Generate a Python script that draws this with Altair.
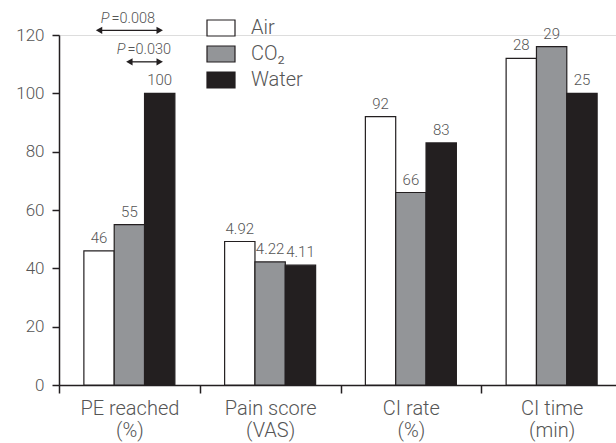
import altair as alt
import pandas as pd

groups = ["PE reached", "Pain score", "CI rate", "CI time"]
units = ["(%)", "(VAS)", "(%)", "(min)"]
series = ["Air", "CO₂", "Water"]
air_vals = [46, 49.2, 92, 112]
co2_vals = [55, 42.2, 66, 116]
water_vals = [100, 41.1, 83, 100]
air_text = ["46", "4.92", "92", "28"]
co2_text = ["55", "4.22", "66", "29"]
water_text = ["100", "4.11", "83", "25"]
colors = ["#ffffff", "#939598", "#231f20"]

# significance annotations
p_group = ["PE reached", "PE reached"]
p_from = ["Air", "CO₂"]
p_to = ["Water", "Water"]
p_level = [121.6, 110.8]
p_value = ["=0.008", "=0.030"]
p_text_level = [124.2, 113.4]

FONT = "Roboto"
TXT = "#555555"
INK = "#231f20"

rows = []
for s, vals, txts in zip(series, [air_vals, co2_vals, water_vals],
                         [air_text, co2_text, water_text]):
    for g, v, t in zip(groups, vals, txts):
        rows.append({"group": g, "series": s, "value": v, "label": t})
bars_df = pd.DataFrame(rows)

arrow_rows = []
for i, (g, a, b, lv) in enumerate(zip(p_group, p_from, p_to, p_level)):
    arrow_rows.append({"cmp": i, "group": g, "series": a, "level": lv, "head": "triangle-left"})
    arrow_rows.append({"cmp": i, "group": g, "series": b, "level": lv, "head": "triangle-right"})
arrow_df = pd.DataFrame(arrow_rows)

ptext_df = pd.DataFrame({"cmp": [0, 1], "group": p_group, "series": ["CO₂", "CO₂"],
                         "value": p_value, "level": p_text_level})

expr = "''"
for g, u in zip(groups, units):
    expr = f"datum.label == '{g}' ? ['{g}', '{u}'] : ({expr})"

x_enc = alt.X("group:N", sort=groups,
              scale=alt.Scale(paddingInner=0, paddingOuter=0, range=[0, 563]),
              axis=alt.Axis(title=None, labelAngle=0, tickBand="extent",
                            labelExpr=expr, labelFontSize=20, labelFont=FONT,
                            labelFontWeight=300, labelColor=TXT,
                            labelLineHeight=22, labelBaseline="top",
                            labelPadding=5, tickSize=8, tickColor=INK,
                            tickWidth=1.5, domainColor=INK, domainWidth=1.5))
xo_enc = alt.XOffset("series:N", sort=series,
                     scale=alt.Scale(paddingInner=0, paddingOuter=0.82))
y_scale = alt.Scale(domain=[0, 120])

bars = alt.Chart(bars_df).mark_bar(stroke=INK, strokeWidth=1.2, opacity=1).encode(
    x=x_enc,
    xOffset=xo_enc,
    y=alt.Y("value:Q", scale=y_scale,
            axis=alt.Axis(title=None, values=list(range(0, 121, 20)), grid=False,
                          labelFontSize=17, labelFont=FONT, labelFontWeight=300,
                          labelColor=TXT, labelPadding=8, tickSize=7,
                          tickColor=INK, tickWidth=1.5, domainColor=INK,
                          domainWidth=1.5)),
    color=alt.Color("series:N", sort=series,
                    scale=alt.Scale(domain=series, range=colors),
                    legend=alt.Legend(orient="none", legendX=147, legendY=-22,
                                      title=None, padding=0,
                                      symbolType="M-1,-0.57H1V0.57H-1Z",
                                      symbolSize=784, symbolStrokeColor=INK,
                                      symbolStrokeWidth=1.2, symbolOpacity=1,
                                      labelFontSize=20, labelFont=FONT,
                                      labelFontWeight=300, labelColor=TXT,
                                      rowPadding=-2, labelOffset=15)),
)

labels = alt.Chart(bars_df).mark_text(baseline="alphabetic", dy=-8, fontSize=15,
                                      font=FONT, fontWeight=300, color=TXT).encode(
    x=alt.X("group:N", sort=groups), xOffset=alt.XOffset("series:N", sort=series),
    y=alt.Y("value:Q"), text="label:N")

lines = alt.Chart(arrow_df).mark_line(color=INK, strokeWidth=1.3).encode(
    x=alt.X("group:N", sort=groups), xOffset=alt.XOffset("series:N", sort=series),
    y=alt.Y("level:Q"), detail="cmp:N")

heads = alt.Chart(arrow_df).mark_point(filled=True, color=INK, size=55, opacity=1).encode(
    x=alt.X("group:N", sort=groups), xOffset=alt.XOffset("series:N", sort=series),
    y=alt.Y("level:Q"), shape=alt.Shape("head:N", scale=None))

ptext_layers = []
for i, dx in zip([0, 1], [-20, -4]):
    base = alt.Chart(ptext_df).transform_filter(alt.datum.cmp == i)
    enc = dict(x=alt.X("group:N", sort=groups),
               xOffset=alt.XOffset("series:N", sort=series),
               y=alt.Y("level:Q"))
    ptext_layers.append(base.mark_text(align="right", baseline="alphabetic", dx=dx,
                                       fontSize=14.5, font=FONT, fontWeight=300,
                                       fontStyle="italic", color=TXT).encode(
        text=alt.value("P"), **enc))
    ptext_layers.append(base.mark_text(align="left", baseline="alphabetic", dx=dx + 2,
                                       fontSize=14.5, font=FONT, fontWeight=300,
                                       color=TXT).encode(text="value:N", **enc))

chart = alt.layer(bars, labels, lines, heads, *ptext_layers).properties(
    width=557, height=350,
    autosize=alt.AutoSizeParams(type="none"),
    padding={"left": 59, "top": 35, "right": 0, "bottom": 58},
).configure_view(stroke=None).configure(background="white")

chart.save("out.html", embed_options={"renderer": "svg", "actions": False})
